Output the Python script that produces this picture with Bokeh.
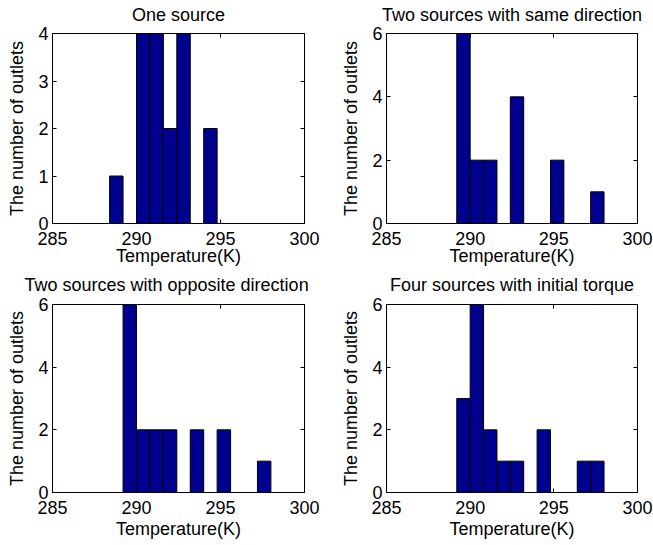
from bokeh.plotting import figure
from bokeh.models import LinearAxis, FixedTicker, Range1d, ColumnDataSource
from bokeh.layouts import column, row
from bokeh.embed import file_html
from bokeh.resources import INLINE

# Histogram bin edges (K), shared by all four panels
bin_left = [287.6, 288.4, 289.2, 290.0, 290.8, 291.6, 292.4,
            293.2, 294.0, 294.8, 295.6, 296.4, 297.2]
bin_right = [288.4, 289.2, 290.0, 290.8, 291.6, 292.4, 293.2,
             294.0, 294.8, 295.6, 296.4, 297.2, 298.0]

# Number of outlets per temperature bin
one_source = [0, 1, 0, 4, 4, 2, 4, 0, 2, 0, 0, 0, 0]
two_same = [0, 0, 6, 2, 2, 0, 4, 0, 0, 2, 0, 0, 1]
two_opposite = [0, 0, 6, 2, 2, 2, 0, 2, 0, 2, 0, 0, 1]
four_torque = [0, 0, 3, 6, 2, 1, 1, 0, 2, 0, 0, 1, 1]

titles = ["One source", "Two sources with same direction",
          "Two sources with opposite direction", "Four sources with initial torque"]
x_ticks = [285, 290, 295, 300]
y_ticks_small = [0, 1, 2, 3, 4]
y_ticks_large = [0, 2, 4, 6]

FONT = "Liberation Sans"
FS = "18px"
BAR_COLOR = "#00008F"


def panel(title, counts, y_max, y_ticks, width, height, borders,
          title_pad, xlabel_gap, title_left=None):
    left, right, top, bottom = borders
    p = figure(width=width, height=height, output_backend="svg", toolbar_location=None,
               x_range=Range1d(285, 300), y_range=Range1d(0, y_max),
               min_border_left=left, min_border_right=right,
               min_border_top=top, min_border_bottom=bottom,
               background_fill_color="white", border_fill_color="white")
    p.title.text = title
    if title_left is None:
        p.title.align = "center"
    else:
        # long title: shift it left so it stays inside the figure
        p.title.align = "left"
        p.title.offset = title_left
    p.title.text_font = FONT
    p.title.text_font_size = FS
    p.title.text_font_style = "normal"
    p.title.text_color = "black"
    p.title.standoff = 0
    p.title.padding = dict(top=0, right=0, bottom=title_pad, left=0)

    src = ColumnDataSource(dict(left=bin_left, right=bin_right, top=counts,
                                bottom=[0] * len(counts)))
    p.quad(left="left", right="right", top="top", bottom="bottom", source=src,
           fill_color=BAR_COLOR, line_color="black", line_width=1)

    p.xgrid.visible = False
    p.ygrid.visible = False
    p.outline_line_color = "black"
    p.outline_line_width = 1
    p.outline_line_alpha = 1

    p.xaxis.ticker = FixedTicker(ticks=x_ticks)
    p.yaxis.ticker = FixedTicker(ticks=y_ticks)
    p.xaxis.axis_label = "Temperature(K)"
    p.yaxis.axis_label = "The number of outlets"
    for ax in (p.xaxis[0], p.yaxis[0]):
        ax.major_tick_in = 4
        ax.major_tick_out = 0
        ax.minor_tick_line_color = None
        ax.axis_line_color = "black"
        ax.major_tick_line_color = "black"
        ax.major_label_text_font = FONT
        ax.major_label_text_font_size = FS
        ax.major_label_text_color = "black"
        ax.axis_label_text_font = FONT
        ax.axis_label_text_font_size = FS
        ax.axis_label_text_font_style = "normal"
        ax.axis_label_text_color = "black"
    p.xaxis.major_label_standoff = 8
    p.xaxis.axis_label_standoff = xlabel_gap
    p.yaxis.major_label_standoff = 4
    p.yaxis.axis_label_standoff = 8

    # tick marks on the opposite sides of the box, without labels
    for loc, tk in (("right", y_ticks), ("above", x_ticks)):
        ax = LinearAxis(ticker=FixedTicker(ticks=tk), major_tick_in=4, major_tick_out=0,
                        minor_tick_line_color=None, axis_line_color="black",
                        major_label_text_color=None, major_label_standoff=0)
        p.add_layout(ax, loc)
    return p


p1 = panel(titles[0], one_source, 4, y_ticks_small, 326, 272, (52, 22, 33, 49), 9, -2)
p2 = panel(titles[1], two_same, 6, y_ticks_large, 327, 272, (60, 16, 33, 49), 9, -2)
p3 = panel(titles[2], two_opposite, 6, y_ticks_large, 326, 273, (52, 22, 31, 53), 10, 2,
           title_left=-28)
p4 = panel(titles[3], four_torque, 6, y_ticks_large, 327, 273, (60, 16, 31, 53), 10, 2)

layout = column(row(p1, p2), row(p3, p4))
open("out.html", "w").write(file_html(layout, INLINE))
